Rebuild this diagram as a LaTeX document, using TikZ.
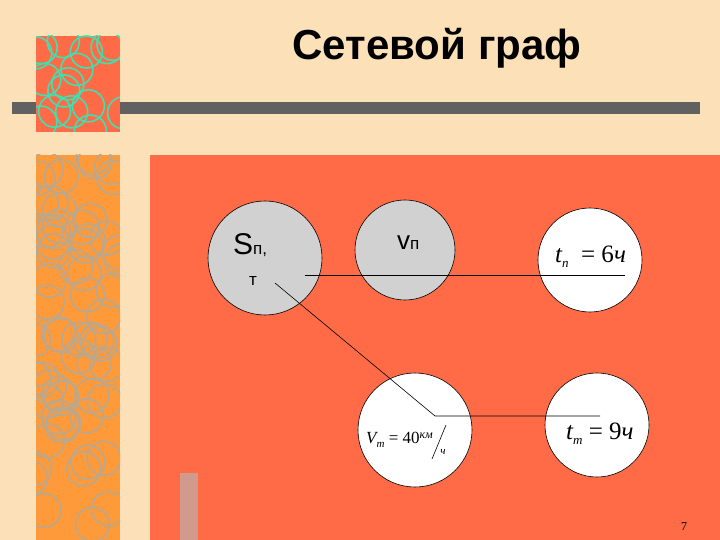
\documentclass[tikz,border=0pt]{standalone}
\usepackage{fontspec}
\setmainfont{Liberation Sans}
\newfontfamily\serif{Liberation Serif}
\begin{document}
\begin{tikzpicture}[x=1pt,y=-1pt,
  bub/.style={circle,draw=black,line width=0.6pt,inner sep=0pt},
  edge/.style={draw=black,line width=0.6pt}]
\definecolor{bg}{HTML}{FBE0B8}
\definecolor{red1}{HTML}{FF6B47}
\definecolor{teal1}{HTML}{3EE0B0}
\definecolor{or1}{HTML}{FF9A3A}
\definecolor{gr1}{HTML}{B8A890}
\definecolor{pk1}{HTML}{D09A8C}
\fill[bg] (0,0) rectangle (720,540);
\useasboundingbox (0,0) rectangle (720,540);
\fill[black!62] (12,102) rectangle (700,114);
% top square
\fill[red1] (36,36) rectangle (120,132);
\begin{scope}
\clip (36,36) rectangle (120,132);
\pgfmathsetseed{7}
\foreach \i in {1,...,16}{
  \pgfmathsetmacro\cx{30+rnd*95}
  \pgfmathsetmacro\cy{30+rnd*105}
  \draw[teal1,line width=1.6pt] (\cx,\cy) circle (16);
}
\end{scope}
% left strip
\fill[or1] (36,155) rectangle (120,540);
\begin{scope}
\clip (36,155) rectangle (120,540);
\pgfmathsetseed{11}
\foreach \i in {1,...,60}{
  \pgfmathsetmacro\cx{30+rnd*95}
  \pgfmathsetmacro\cy{150+rnd*395}
  \draw[gr1,line width=1.6pt] (\cx,\cy) circle (17);
}
\end{scope}
% main panel
\fill[red1] (150,155) rectangle (720,540);
\fill[pk1] (180,473) rectangle (198,540);
\node[font=\bfseries\fontsize{42}{48}\selectfont] (title) at (437,48) {Сетевой граф};
% circles
\node[bub,fill=black!18,minimum size=114pt] (s) at (265,258) {};
\node[bub,fill=black!18,minimum size=100pt] (v) at (405,250) {};
\node[bub,fill=white,minimum size=104pt] (tn) at (590,260) {};
\node[bub,fill=white,minimum size=114pt] (vm) at (415,430) {};
\node[bub,fill=white,minimum size=104pt] (tm) at (597,425) {};
% labels
\node[anchor=west,inner sep=0] (sl) at (233,245) {\fontsize{30}{32}\selectfont S\fontsize{17}{18}\selectfont п,};
\node[anchor=west,inner sep=0] (tl) at (249,281) {\fontsize{17}{18}\selectfont т};
\node[anchor=west,inner sep=0] (vl) at (397,243) {\fontsize{26}{28}\selectfont v\fontsize{17}{18}\selectfont п};
\node[anchor=west,inner sep=0,font=\serif] (tnl) at (555,257) {\fontsize{25}{26}\selectfont\itshape t\raisebox{-5pt}{\fontsize{13}{14}\selectfont п}\upshape\ \ = 6\itshape ч};
\node[anchor=west,inner sep=0,font=\serif] (tml) at (566,434) {\fontsize{25}{26}\selectfont\itshape t\raisebox{-5pt}{\fontsize{13}{14}\selectfont m}\upshape\ = 9\itshape ч};
\node[anchor=west,inner sep=0,font=\serif] (vml) at (366,440) {\fontsize{17}{18}\selectfont\itshape V\raisebox{-4pt}{\fontsize{11}{12}\selectfont m}\upshape\ = 40\raisebox{5pt}{\fontsize{12}{13}\selectfont\itshape км}};
\draw[line width=0.6pt] (432,459) -- (446,425);
\node[font=\serif\itshape\fontsize{11}{12}\selectfont,inner sep=0] (ch) at (443,452) {ч};
\node[font=\serif\fontsize{12}{13}\selectfont] (pg) at (684,527) {7};
% connectors
\coordinate (a1) at (305,275); \coordinate (a2) at (625,275);
\coordinate (b1) at (275,283); \coordinate (b2) at (435,416); \coordinate (b3) at (600,416);
\draw[edge] (a1) -- (a2);
\draw[edge] (b1) -- (b2) -- (b3);
\end{tikzpicture}
\end{document}
